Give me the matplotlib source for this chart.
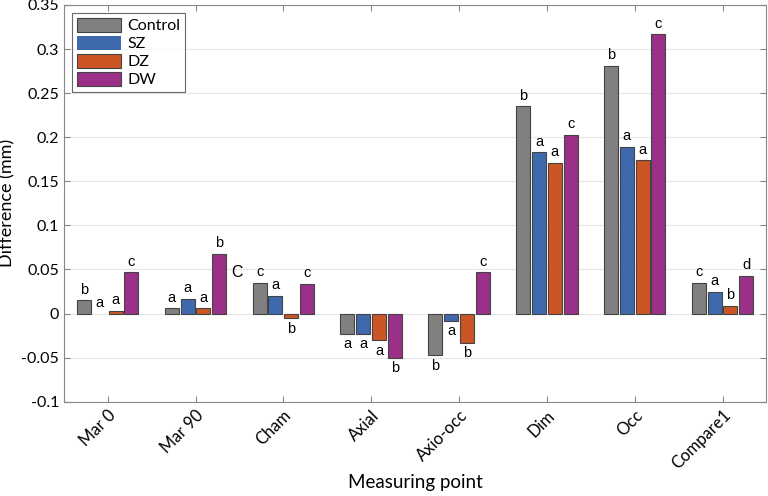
import numpy as np
import matplotlib
matplotlib.use("Agg")
import matplotlib.pyplot as plt

plt.rcParams["font.family"] = ["Lato", "DejaVu Sans"]

categories = ["Mar 0", "Mar 90", "Cham", "Axial", "Axio-occ", "Dim", "Occ", "Compare1"]
groups = ["Control", "SZ", "DZ", "DW"]
colors = ["#808080", "#3f69ad", "#cc5526", "#9b3088"]

control = [0.015, 0.006, 0.035, -0.023, -0.047, 0.235, 0.281, 0.035]
sz      = [0.000, 0.017, 0.020, -0.023, -0.008, 0.183, 0.189, 0.025]
dz      = [0.003, 0.006, -0.005, -0.030, -0.033, 0.171, 0.174, 0.009]
dw      = [0.047, 0.068, 0.034, -0.050, 0.047, 0.203, 0.317, 0.043]

letters_control = ["b", "a", "c", "a", "b", "b", "b", "c"]
letters_sz      = ["a", "a", "a", "a", "a", "a", "a", "a"]
letters_dz      = ["a", "a", "b", "a", "b", "a", "a", "b"]
letters_dw      = ["c", "b", "c", "b", "c", "c", "c", "d"]

series = [control, sz, dz, dw]
letters = [letters_control, letters_sz, letters_dz, letters_dw]

fig = plt.figure(figsize=(7.68, 4.96), dpi=100)
ax = fig.add_axes([0.083, 0.19, 0.915, 0.80])

x = np.arange(1, len(categories) + 1)
step, width = 0.18, 0.16
for i, (vals, lab, col, let) in enumerate(zip(series, groups, colors, letters)):
    xs = x + (i - 1.5) * step
    lws = [0.8 if v != 0 else 0 for v in vals]
    ax.bar(xs, vals, width, color=col, edgecolor="#444444", linewidth=lws,
           label=lab, zorder=3)
    for xi, v, t in zip(xs, vals, let):
        if v >= 0:
            ax.text(xi, v + 0.004, t, ha="center", va="bottom", fontsize=10.5,
                    family="Liberation Sans")
        else:
            ax.text(xi, v - 0.004, t, ha="center", va="top", fontsize=10.5,
                    family="Liberation Sans")

# stray letter beside Mar 90
ax.text(x[1] + 0.47, 0.047, "C", ha="center", va="center", fontsize=11.5,
        family="Liberation Sans")

ax.set_xlim(0.5, 8.5)
ax.set_ylim(-0.1, 0.35)
ax.set_yticks(np.arange(-0.1, 0.351, 0.05))
ax.set_yticklabels(["-0.1", "-0.05", "0", "0.05", "0.1", "0.15", "0.2",
                    "0.25", "0.3", "0.35"])
ax.set_xticks(x)
ax.set_xticklabels(categories, rotation=45, ha="right", rotation_mode="anchor")
ax.tick_params(direction="in", top=True, right=True, length=4, color="#888888",
               labelsize=11.5)
ax.tick_params(axis="x", labelsize=12, pad=4)
ax.yaxis.grid(True, color="#e6e6e6", linewidth=0.8, zorder=0)
ax.set_axisbelow(True)
for s in ax.spines.values():
    s.set_color("#888888")
ax.set_xlabel("Measuring point", fontsize=13.5, labelpad=1)
ax.set_ylabel("Difference (mm)", fontsize=13)

leg = ax.legend(loc="upper left", fontsize=11.5, fancybox=False, edgecolor="#444444",
                handlelength=2.8, handleheight=1.0, borderaxespad=0.5,
                labelspacing=0.15, handletextpad=0.4, borderpad=0.3)
leg.get_frame().set_linewidth(0.8)

fig.savefig("out.png", dpi=100)
